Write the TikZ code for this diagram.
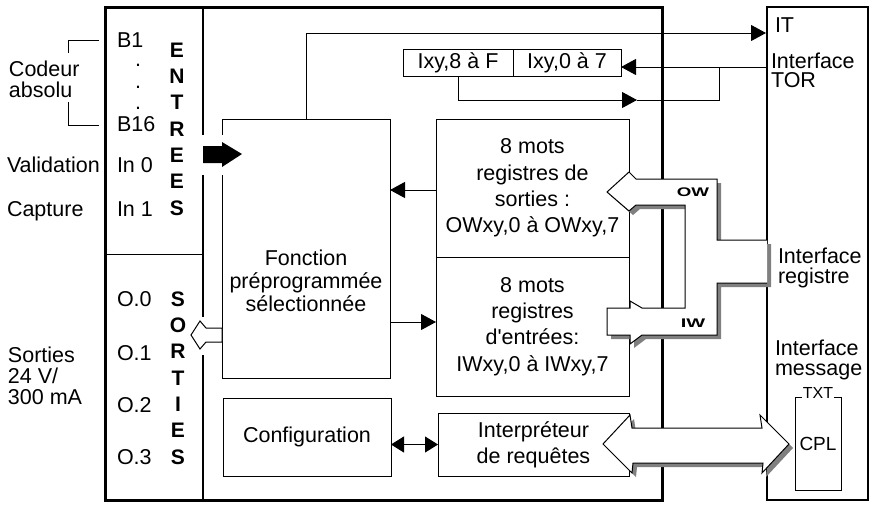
\documentclass[tikz,border=0pt]{standalone}
\usepackage{fontspec}
\setmainfont{Liberation Sans}[Ligatures=TeXOff]
\usetikzlibrary{arrows.meta}
\newcommand\owiwopen{(767,283) -- (717,283) -- (717,335) -- (642,335) -- (630,344) -- (630,335) -- (607,335) -- (607,308) -- (630,308) -- (630,301) -- (642,308) -- (685,308) -- (685,205) -- (636,205) -- (629,211) -- (607,192) -- (629,172) -- (636,179) -- (717,179) -- (717,240) -- (767,240)}
\newcommand\bigdarrow{(603,444) -- (630,415) -- (632,428) -- (762,428) -- (760,415) -- (789,444) -- (762,473) -- (763,463) -- (633,463) -- (632,473) -- cycle}
\begin{document}
\begin{tikzpicture}[x=1pt,y=-1pt,
  every node/.style={inner sep=0pt,outer sep=0pt},
  lbl/.style={font=\fontsize{21.5}{21}\selectfont},
  vtxt/.style={font=\fontsize{21}{26.3}\selectfont\bfseries,align=center},
  thinl/.style={line width=1pt},
  boxn/.style={draw,line width=1pt,align=center,font=\fontsize{21.5}{26.3}\selectfont},
  arr/.style={line width=1pt,-{Triangle[length=15pt,width=16pt]}},
  darr/.style={line width=1pt,{Triangle[length=13pt,width=16pt]}-{Triangle[length=13pt,width=16pt]}},
  bigw/.style={fill=white,draw=black,line width=1pt,line join=miter},
  shad/.style={fill=black!50},
]
\useasboundingbox (0,0) rectangle (876,504);

% main frame and interface column
\draw[line width=3pt] (105,7) rectangle (662,500);
\node[draw,line width=2.5pt,minimum width=101pt,minimum height=493pt,anchor=north west] (iface) at (767,7) {};

% inner separations
\draw[line width=1.2pt] (203,7) -- (203,500);
\draw[thinl] (105,254) -- (203,254);

% boxes
\node[draw,thinl,minimum width=168pt,minimum height=259pt,anchor=north west] (fonct) at (222,119) {};
\node[anchor=base,align=center,font=\fontsize{21.5}{23}\selectfont] (ftxt) at (306,311) {Fonction\\préprogrammée\\sélectionnée};
\node[boxn,minimum width=193pt,minimum height=138pt,anchor=north west] (regs) at (436,119) {8 mots\\registres de\\sorties :\\OWxy,0 à OWxy,7};
\node[boxn,minimum width=193pt,minimum height=139pt,anchor=north west] (rege) at (436,257) {8 mots\\registres\\d'entrées:\\IWxy,0 à IWxy,7};
\node[boxn,minimum width=168pt,minimum height=78pt,anchor=north west] (config) at (223,398) {Configuration};
\node[boxn,minimum width=191pt,minimum height=63pt,anchor=north west] (interp) at (438,413) {Interpréteur\\de requêtes};
\node[boxn,minimum width=110pt,minimum height=27pt,anchor=north west] (ixy8) at (403,49) {Ixy,8 à F};
\node[boxn,minimum width=108pt,minimum height=27pt,anchor=west] (ixy0) at (ixy8.east) {Ixy,0 à 7};
\node[draw,thinl,minimum width=46pt,minimum height=93pt,anchor=north west,font=\fontsize{19}{19}\selectfont] (cpl) at (795,397) {CPL};
\node[fill=white,inner xsep=1pt,font=\fontsize{16}{16}\selectfont,anchor=base] (txt) at (818,398) {TXT};

% gaps and small arrows on the left
\fill[white] (201,135) rectangle (224,175);
\fill[white] (201,317) rectangle (205,355);
\fill (203,146) -- (222,146) -- (222,142) -- (242,154) -- (222,167) -- (222,163) -- (203,163) -- cycle;
\draw[bigw] (191,335) -- (200,321) -- (206,328) -- (222,328) -- (222,342) -- (206,342) -- (200,349) -- cycle;

% connectors
\coordinate (itpt) at (766,33);
\coordinate (torpt) at (767,67);
\coordinate (loopmid) at (637,100);
\coordinate (tap) at (719,67);
\coordinate (yow) at (0,190);
\coordinate (yiw) at (0,322);
\draw[arr] (fonct.north) |- (itpt);
\draw[arr] (torpt) -- (torpt -| ixy0.east);
\draw[arr] (ixy8.south) |- (loopmid);
\draw[thinl] (loopmid) -| (tap);
\draw[arr] (regs.west |- yow) -- (fonct.east |- yow);
\draw[arr] (fonct.east |- yiw) -- (rege.west |- yiw);
\draw[darr] (config.east |- interp.west) -- (interp.west);

% OW / IW bus
\fill[shad,shift={(4,4)}] \owiwopen -- cycle;
\fill[white] \owiwopen -- cycle;
\draw[thinl,line join=miter] \owiwopen;
\node[font=\fontsize{12.5}{12.5}\selectfont\bfseries] (ow) at (693,192) {\scalebox{1.5}[1]{OW}};
\node[font=\fontsize{12.5}{12.5}\selectfont\bfseries] (iw) at (693,323) {\scalebox{1.6}[1]{IW}};

% big message arrow
\fill[shad,shift={(4,4)}] \bigdarrow;
\draw[bigw] \bigdarrow;

% left labels
\node[lbl,anchor=base west,align=left] (codeur) at (9,97) {Codeur\\absolu};
\draw[thinl] (99,40) -| (68,53);
\draw[thinl] (68,102) |- (99,125);
\node[lbl,anchor=base west] (valid) at (7,172) {Validation};
\node[lbl,anchor=base west] (capt) at (7,216) {Capture};
\node[lbl,anchor=base west,align=left] (sortl) at (8,404) {Sorties\\24 V/\\300 mA};

% inputs / outputs
\node[lbl,anchor=base west] (b1) at (117,47) {B1};
\node[lbl,anchor=base] (d1) at (138,66) {.};
\node[lbl,anchor=base] (d2) at (138,88) {.};
\node[lbl,anchor=base] (d3) at (138,109) {.};
\node[lbl,anchor=base west] (b16) at (117,131) {B16};
\node[lbl,anchor=base west] (in0) at (117,172) {In 0};
\node[lbl,anchor=base west] (in1) at (117,216) {In 1};
\node[lbl,anchor=base west] (o0) at (117,306) {O.0};
\node[lbl,anchor=base west] (o1) at (117,360) {O.1};
\node[lbl,anchor=base west] (o2) at (117,412) {O.2};
\node[lbl,anchor=base west] (o3) at (117,464) {O.3};
\node[vtxt,anchor=base] (entrees) at (177,215) {E\\N\\T\\R\\E\\E\\S};
\node[vtxt,anchor=base] (sorties) at (178,464) {S\\O\\R\\T\\I\\E\\S};

% interface labels
\node[lbl,anchor=base west] (it) at (775,32) {IT};
\node[anchor=base west,align=left,font=\fontsize{21.5}{19}\selectfont] (tor) at (771,87) {Interface\\TOR};
\node[anchor=base west,align=left,font=\fontsize{21.5}{20}\selectfont] (ireg) at (778,283) {Interface\\registre};
\node[anchor=base west,align=left,font=\fontsize{21.5}{20}\selectfont] (imsg) at (775,375) {Interface\\message};
\end{tikzpicture}
\end{document}
